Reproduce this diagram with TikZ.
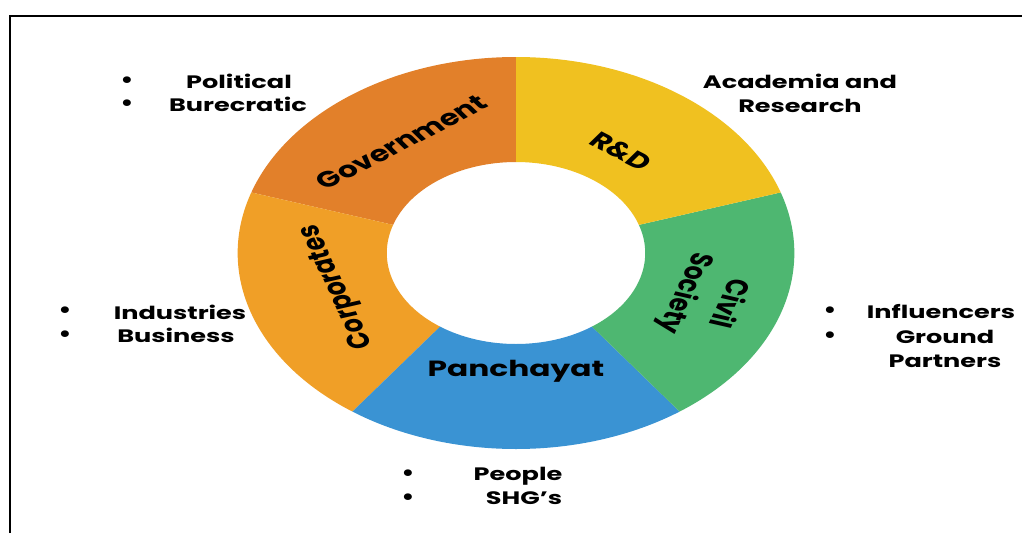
\documentclass[tikz,border=0pt]{standalone}
\usepackage{fontspec}
\setmainfont{Poppins}
\definecolor{govorange}{HTML}{E2802A}
\definecolor{corporange}{HTML}{F09F27}
\definecolor{panchblue}{HTML}{3A93D3}
\definecolor{civilgreen}{HTML}{4EB771}
\definecolor{rdyellow}{HTML}{F0C120}
\begin{document}
\begin{tikzpicture}[x=1pt,y=1pt,
  ringlabel/.style={font=\fontsize{22}{32}\selectfont\bfseries, align=center, inner sep=0pt},
  sidelabel/.style={font=\fontsize{18}{23}\selectfont\bfseries, xscale=1.42, anchor=base, inner sep=0pt},
  dotmark/.style={font=\fontsize{22}{23}\selectfont\bfseries, xscale=1.2, inner sep=0pt}]
  \useasboundingbox[fill=white] (0,0) rectangle (1022,-533);
  % frame
  \draw[line width=2.6pt] (10,-533) -- (10,-16) -- (1022,-16);

  % ring of five sectors, drawn round and stretched sideways
  \begin{scope}[shift={(516,-253)}, xscale=1.42, transform shape]
    \def\ro{196}\def\ri{91}
    \fill[govorange]   (90:\ro)  arc[start angle=90,  end angle=162, radius=\ro] -- (162:\ri) arc[start angle=162, end angle=90,  radius=\ri] -- cycle;
    \fill[corporange]  (162:\ro) arc[start angle=162, end angle=234, radius=\ro] -- (234:\ri) arc[start angle=234, end angle=162, radius=\ri] -- cycle;
    \fill[panchblue]   (234:\ro) arc[start angle=234, end angle=306, radius=\ro] -- (306:\ri) arc[start angle=306, end angle=234, radius=\ri] -- cycle;
    \fill[civilgreen]  (-54:\ro) arc[start angle=-54, end angle=18,  radius=\ro] -- (18:\ri)  arc[start angle=18,  end angle=-54, radius=\ri] -- cycle;
    \fill[rdyellow]    (18:\ro)  arc[start angle=18,  end angle=90,  radius=\ro] -- (90:\ri)  arc[start angle=90,  end angle=18,  radius=\ri] -- cycle;

    \node[ringlabel, rotate=36]   (gov)   at (126:137)  {Government};
    \node[ringlabel, rotate=-36]  (rnd)   at (54:126)   {R\&D};
    \node[ringlabel, rotate=-108] (civil) at (-18.5:141) {Civil\\Society};
    \node[ringlabel, rotate=108]  (corp)  at (195:130)  {Corporates};
    \node[ringlabel]              (panch) at (270:118)  {Panchayat};
  \end{scope}

  % Government
  \node[dotmark] (govb1) at (127,-82)  {\textbullet};
  \node[dotmark] (govb2) at (127,-105) {\textbullet};
  \node[sidelabel] (govt1) at (239,-88)  {Political};
  \node[sidelabel] (govt2) at (238,-111) {Burecratic};

  % R&D
  \node[sidelabel] (rndt1) at (800,-88)  {Academia and};
  \node[sidelabel] (rndt2) at (800,-112) {Research};

  % Corporates
  \node[dotmark] (corpb1) at (65,-312) {\textbullet};
  \node[dotmark] (corpb2) at (65,-336) {\textbullet};
  \node[sidelabel] (corpt1) at (180,-319) {Industries};
  \node[sidelabel] (corpt2) at (176,-342) {Business};

  % Civil Society
  \node[dotmark] (civb1) at (830,-312) {\textbullet};
  \node[dotmark] (civb2) at (830,-337) {\textbullet};
  \node[sidelabel] (civt1) at (941,-318) {Influencers};
  \node[sidelabel] (civt2) at (945,-343) {Ground};
  \node[sidelabel] (civt3) at (945,-367) {Partners};

  % Panchayat
  \node[dotmark] (panb1) at (408,-475) {\textbullet};
  \node[dotmark] (panb2) at (408,-499) {\textbullet};
  \node[sidelabel] (pant1) at (518,-480) {People};
  \node[sidelabel] (pant2) at (524,-504) {SHG{\char"27}s};
\end{tikzpicture}
\end{document}
